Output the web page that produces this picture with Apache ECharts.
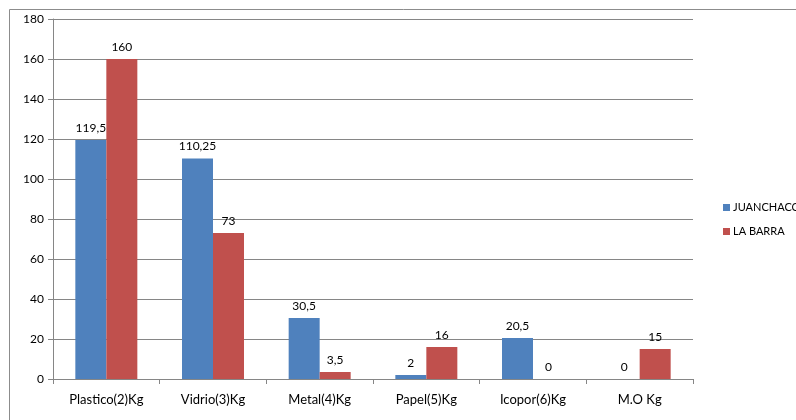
<!DOCTYPE html>
<html>
<head>
<meta charset="utf-8">
<script src="https://cdn.jsdelivr.net/npm/echarts@6/dist/echarts.min.js"></script>
<style>
  html, body { margin: 0; padding: 0; background: #fff; }
  #chart { width: 796px; height: 420px; }
</style>
</head>
<body>
<div id="chart"></div>
<script>
// Waste collected per material (kg) at two beaches
const categories = ['Plastico(2)Kg', 'Vidrio(3)Kg', 'Metal(4)Kg', 'Papel(5)Kg', 'Icopor(6)Kg', 'M.O Kg'];
const juanchaco = [119.5, 110.25, 30.5, 2, 20.5, 0];
const laBarra = [160, 73, 3.5, 16, 0, 15];
const seriesNames = ['JUANCHACO', 'LA BARRA'];

const FONT = 'Lato, "Open Sans", sans-serif';
const commaDecimal = v => String(v).replace('.', ',');

const chart = echarts.init(document.getElementById('chart'), null, { renderer: 'canvas' });

function barSeries(name, data, color) {
  return {
    name,
    type: 'bar',
    data,
    barWidth: 31,
    barGap: '0%',
    itemStyle: { color },
    label: {
      show: true,
      position: 'top',
      distance: 6,
      color: '#000',
      fontFamily: FONT,
      fontSize: 12,
      formatter: p => commaDecimal(p.value)
    },
    animation: false
  };
}

chart.setOption({
  animation: false,
  backgroundColor: '#fff',
  graphic: [{
    type: 'rect',
    shape: { x: 9.5, y: 9.5, width: 800, height: 420 },
    style: { fill: 'none', stroke: '#8c8c8c', lineWidth: 1 },
    silent: true
  }],
  grid: { left: 53, right: 103, top: 19, bottom: 41, containLabel: false },
  legend: {
    orient: 'vertical',
    left: 718,
    top: 197,
    itemWidth: 7,
    itemHeight: 7,
    itemGap: 13,
    icon: 'rect',
    textStyle: { fontFamily: FONT, fontSize: 11, color: '#000', padding: [0, 0, 0, -2] },
    data: seriesNames
  },
  xAxis: {
    type: 'category',
    data: categories,
    axisLine: { lineStyle: { color: '#868686' } },
    axisTick: { show: true, alignWithLabel: false, length: 5, lineStyle: { color: '#868686' } },
    axisLabel: { fontFamily: FONT, fontSize: 13, color: '#000', margin: 14 }
  },
  yAxis: {
    type: 'value',
    min: 0,
    max: 180,
    interval: 20,
    axisLine: { show: true, lineStyle: { color: '#868686' } },
    axisTick: { show: true, length: 5, lineStyle: { color: '#868686' } },
    axisLabel: { fontFamily: FONT, fontSize: 12, color: '#000', margin: 9 },
    splitLine: { lineStyle: { color: '#868686' } }
  },
  series: [
    barSeries(seriesNames[0], juanchaco, '#4F81BD'),
    barSeries(seriesNames[1], laBarra, '#C0504D')
  ]
});
</script>
</body>
</html>
